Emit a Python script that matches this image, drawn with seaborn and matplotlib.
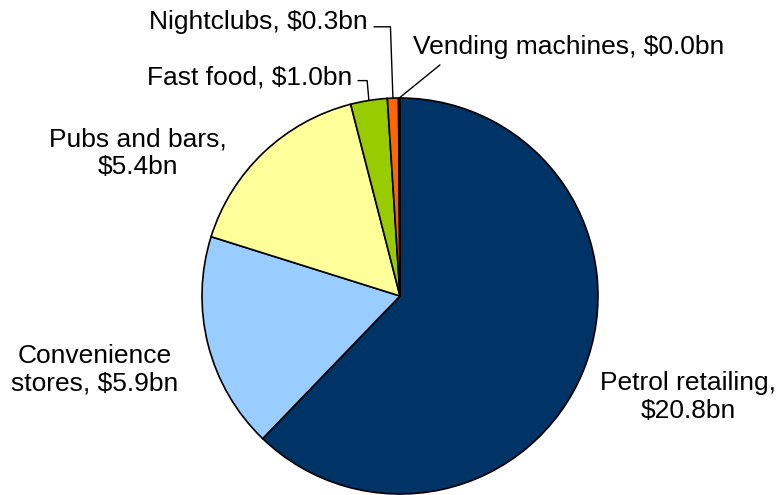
import numpy as np
import matplotlib
matplotlib.use("Agg")
import matplotlib.pyplot as plt
import seaborn as sns

# Segment revenue (US$ billions)
segments = ["Petrol retailing", "Convenience stores", "Pubs and bars",
            "Fast food", "Nightclubs", "Vending machines"]
revenue = [20.8, 5.9, 5.4, 1.0, 0.3, 0.04]
colors = ["#003366", "#99CCFF", "#FFFF99", "#99CC00", "#FF6600", "#000000"]

sns.set_theme(style="white")
plt.rcParams["font.family"] = ["Liberation Sans", "DejaVu Sans"]
plt.rcParams["text.color"] = "black"

W, H = 777, 495
fig = plt.figure(figsize=(W / 100, H / 100), dpi=100)
ax = fig.add_axes([0, 0, 1, 1])

cx, cy, r = 400, H - 296, 198
wedges, _ = ax.pie(revenue, colors=colors, startangle=90, counterclock=False,
                   center=(cx, cy), radius=r, frame=True,
                   wedgeprops=dict(edgecolor="black", linewidth=1.2))
ax.set_xlim(0, W)
ax.set_ylim(0, H)
ax.set_aspect("equal")
ax.axis("off")

labels = [f"{s}, ${v:.1f}bn" for s, v in zip(segments, revenue)]


def edge_point(w, frac=1.0):
    ang = np.deg2rad((w.theta1 + w.theta2) / 2)
    return cx + frac * r * np.cos(ang), cy + frac * r * np.sin(ang)


fs = 19
# Large slices: plain labels beside the pie
ax.text(688, H - 397, f"Petrol retailing,\n${revenue[0]:.1f}bn",
        ha="center", va="center", fontsize=fs, linespacing=1.2)
ax.text(95, H - 370, f"Convenience\nstores, ${revenue[1]:.1f}bn",
        ha="center", va="center", fontsize=fs, linespacing=1.2)
ax.text(138, H - 153, f"Pubs and bars,\n${revenue[2]:.1f}bn",
        ha="center", va="center", fontsize=fs, linespacing=1.2)

# Small slices: labels with leader lines
line = dict(arrowstyle="-", color="black", lw=1, shrinkB=0)
ax.annotate(labels[3], xy=edge_point(wedges[3]), xytext=(352, H - 77),
            ha="right", va="center", fontsize=fs,
            arrowprops=dict(line, connectionstyle="angle,angleA=0,angleB=95,rad=0",
                            relpos=(1, 0.35), shrinkA=2))
ax.annotate(labels[4], xy=edge_point(wedges[4]), xytext=(368, H - 22),
            ha="right", va="center", fontsize=fs,
            arrowprops=dict(line, connectionstyle="angle,angleA=0,angleB=92,rad=0",
                            relpos=(1, 0.3), shrinkA=2))
ax.annotate(labels[5], xy=edge_point(wedges[5]), xytext=(413, H - 47),
            ha="left", va="center", fontsize=fs,
            arrowprops=dict(line, relpos=(0.11, 0), shrinkA=3))

fig.savefig("out.png", dpi=100, facecolor="white")
